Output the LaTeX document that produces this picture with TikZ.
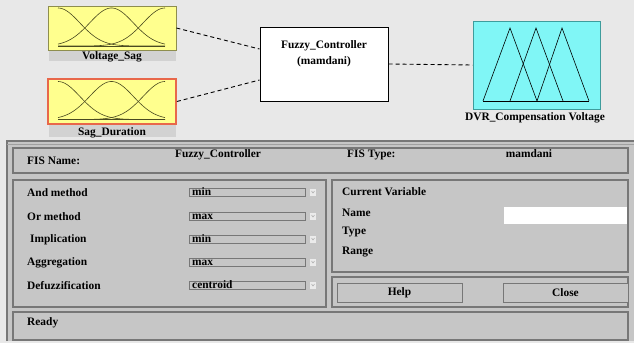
\documentclass[tikz,border=0pt]{standalone}
\usepackage{fontspec}
\setmainfont{Liberation Serif}
\usepackage{xcolor}
\usetikzlibrary{positioning,calc}
\definecolor{topbg}{HTML}{E8E8E8}
\definecolor{panelbg}{HTML}{C6C6C6}
\definecolor{frameg}{HTML}{777777}
\definecolor{barg}{HTML}{D2D2D2}
\definecolor{mfyel}{HTML}{FFFF8E}
\definecolor{mfyelb}{HTML}{8E8E4E}
\definecolor{mfred}{HTML}{E8674A}
\definecolor{mfcyan}{HTML}{80F6F6}
\definecolor{mfcyanb}{HTML}{3E9C9C}
\definecolor{curveg}{HTML}{4A4A20}

\begin{document}
\begin{tikzpicture}[
      x=1pt, y=-1pt,
      font=\fontsize{11.4}{13}\selectfont\bfseries,
      mfbox/.style   = {draw=mfyelb, line width=0.8pt, fill=mfyel, minimum width=128pt,
                        minimum height=44pt, inner sep=0pt},
      lblbar/.style  = {fill=barg, minimum width=127pt, minimum height=10pt, inner sep=0pt},
      ctrlbox/.style = {draw, line width=1pt, fill=white, minimum width=128pt,
                        minimum height=74pt, inner sep=0pt},
      outbox/.style  = {draw=mfcyanb, line width=0.8pt, fill=mfcyan, minimum width=127pt,
                        minimum height=88pt, inner sep=0pt},
      dashline/.style= {dashed, dash pattern=on 4pt off 3pt, line width=0.9pt},
      panelbox/.style= {draw=frameg, line width=1.3pt},
      dropbox/.style = {draw=frameg, line width=0.9pt, minimum width=116pt,
                        minimum height=8pt, inner sep=0pt, anchor=west},
      arrbox/.style  = {fill=black!8, minimum width=6pt, minimum height=7pt, inner sep=0pt},
      btn/.style     = {draw=frameg, line width=1pt, fill=panelbg, minimum width=125pt,
                        minimum height=19pt, inner sep=0pt},
      txt/.style     = {inner sep=0pt, anchor=west},
      val/.style     = {inner sep=0pt, anchor=base west},
    ]
    \useasboundingbox (0,0) rectangle (634,343);

    % ---- backgrounds ----
    \fill[topbg] (0,0) rectangle (634,343);
    \fill[panelbg] (7,140) rectangle (634,341);
    \draw[frameg, line width=1.2pt] (7,341) -- (7,141) -- (634,141);
    \draw[frameg!70, line width=0.8pt] (7,144) -- (634,144);

    % ---- input membership boxes ----
    \node[mfbox] (vsag) at (112,28) {};
    \node[lblbar] (vsagbar) at (112,56) {};
    \node[inner sep=0pt] (vsaglbl) at (112,57) {Voltage\_Sag};

    \node[mfbox, draw=mfred, line width=1.8pt, minimum height=45pt] (sdur) at (112,101.5) {};
    \node[lblbar, minimum height=12pt] (sdurbar) at (112,131) {};
    \node[inner sep=0pt] (sdurlbl) at (112,133) {Sag\_Duration};

    % gaussian curves
    \foreach \dy in {0,73.5} {
      \begin{scope}[yshift=-\dy pt, curveg, line width=0.6pt]
        \draw (58,46) -- (165,46);
        \foreach \mu in {58,111.5,165}
          \draw plot[domain=58:165, samples=70, smooth]
            (\x, {46-38*exp(-((\x-\mu)^2)/959)});
      \end{scope}
    }

    % ---- controller ----
    \node[ctrlbox] (ctrl) at (324,64) {};
    \node[align=center, inner sep=0pt, font=\fontsize{11.4}{16}\selectfont\bfseries]
      (ctrltxt) at (324,54) {Fuzzy\_Controller\\(mamdani)};

    % ---- output ----
    \node[outbox] (outv) at (536.5,65) {};
    \begin{scope}[black, line width=0.6pt]
      \draw (483,101) -- (510,28) -- (537,101);
      \draw (510,101) -- (536,28) -- (563,101);
      \draw (537,101) -- (562,28) -- (589,101);
      \draw (483,101) -- (589,101);
    \end{scope}
    \node[inner sep=0pt] (outlbl) at (535,118) {DVR\_Compensation Voltage};

    % ---- connectors ----
    \draw[dashline] (vsag.east) -- ([yshift=15pt]ctrl.west);
    \draw[dashline] (sdur.east) -- ([yshift=-16pt]ctrl.west);
    \draw[dashline] (ctrl.east) -- (outv.west);

    % ---- FIS row ----
    \draw[panelbox] (13,148) rectangle (628,173);
    \node[txt] (fisname) at (27,161) {FIS Name:};
    \node[inner sep=0pt] (fisnv) at (218,155) {Fuzzy\_Controller};
    \node[txt] (fistype) at (347,155) {FIS Type:};
    \node[inner sep=0pt] (fistv) at (529,154) {mamdani};

    % ---- methods panel ----
    \draw[panelbox] (13,180) rectangle (326,307);
    \foreach \lab/\v/\y/\xo in {And method/min/193/27, Or method/max/217/27,
                                 Implication/min/240/30, Aggregation/max/263/27,
                                 Defuzzification/centroid/286/27} {
      \node[txt] at (\xo,\y) {\lab};
      \node[dropbox] at (189,\y-1) {};
      \node[val] at (192,\y+2) {\v};
      \node[arrbox] at (313,\y-1) {};
      \draw[black!35, line width=0.5pt] (311.5,\y-2) -- (313,\y) -- (314.5,\y-2);
    }

    % ---- current variable panel ----
    \draw[panelbox] (332,180) rectangle (628,272);
    \node[txt] (curvar) at (342,192) {Current Variable};
    \node[txt] (vname)  at (342,213) {Name};
    \node[txt] (vtype)  at (342,232) {Type};
    \node[txt] (vrange) at (342,252) {Range};
    \node[fill=white, minimum width=123pt, minimum height=17pt, inner sep=0pt]
      (namefld) at (565.5,215.5) {};

    % ---- buttons ----
    \draw[panelbox] (332,277) rectangle (628,307);
    \node[btn] (help)  at (399.5,292.5) {Help};
    \node[btn] (close) at (565.5,292.5) {Close};

    % ---- status ----
    \draw[panelbox] (13,312) rectangle (628,340);
    \node[txt] (status) at (27,323) {Ready};
  \end{tikzpicture}
\end{document}
